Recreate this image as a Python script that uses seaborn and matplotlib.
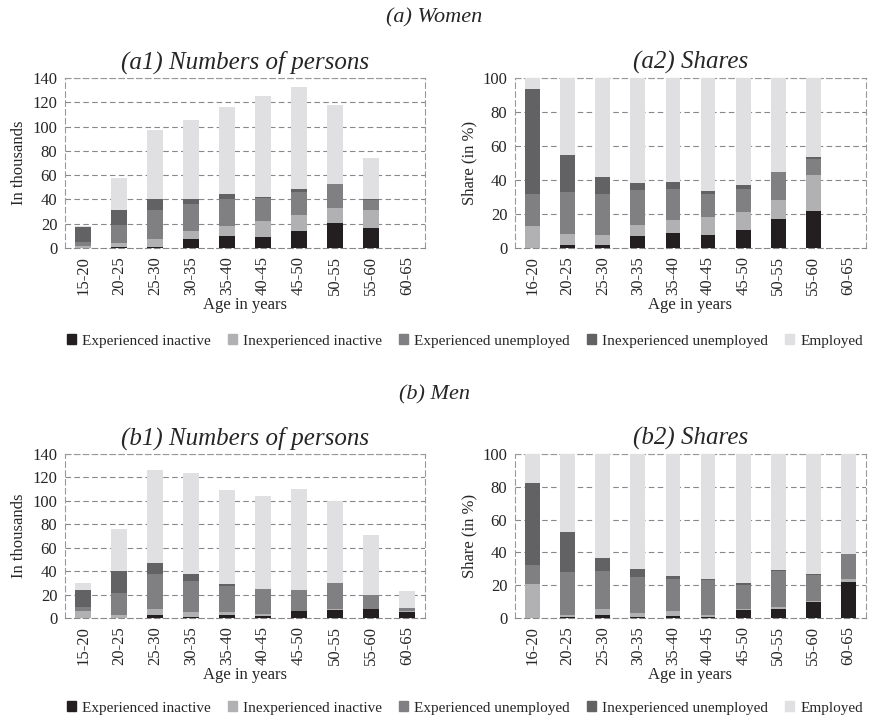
import matplotlib
matplotlib.use("Agg")
import matplotlib.pyplot as plt
import seaborn as sns
import pandas as pd
import numpy as np
from matplotlib.patches import Patch

sns.set_style("white")
plt.rcParams['font.family'] = ['Liberation Serif', 'DejaVu Serif']

ages_num = ["15-20","20-25","25-30","30-35","35-40","40-45","45-50","50-55","55-60","60-65"]
ages_shr = ["16-20","20-25","25-30","30-35","35-40","40-45","45-50","50-55","55-60","60-65"]
series = ["Experienced inactive","Inexperienced inactive","Experienced unemployed","Inexperienced unemployed","Employed"]
colors = ["#231f20","#b1b1b3","#808082","#626264","#e0e0e2"]

# segments per age group: [exp inactive, inexp inactive, exp unemployed, inexp unemployed, employed]
women_num = [[0,2,3,12,1.5],[0.5,3.9,14.2,12.9,26.5],[1,6.7,23.8,9.1,56.9],[7.7,6.6,21.7,4,65.6],
             [10,8.4,22.2,4.1,71.6],[9.3,13.2,18.5,0.7,83.7],[14.3,13.1,19,2.4,84],[20.9,12.3,19.8,0,65],
             [16.7,14.8,8,0.5,34.4],[0,0,0,0,0]]
women_shr = [[0,12.8,19.2,61.5,6.5],[2,6.5,24.2,21.8,45.5],[2,5.9,24.1,10,58],[7.3,6.5,20.1,4.1,62],
             [9,7.7,18.3,3.6,61.4],[7.9,10.6,13.5,1.3,66.7],[10.8,10.1,14.1,1.8,63.2],[17.3,11.2,16.5,0,55],
             [22,20.7,9.5,1.1,46.7],[0,0,0,0,0]]
men_num = [[0,6.2,3.5,14.3,6],[0.3,2.5,18.8,18.4,36],[2.8,5.2,29.8,9.2,79.4],[0.9,4.5,26.4,6,85.8],
           [2.3,3.1,21.6,2,80.4],[1.4,1.7,21.9,0,79.5],[5.7,0,17.9,0.4,86],[6.5,1.5,22,0,70],
           [7.4,0.6,11.3,0,51.4],[4.8,0.9,3.1,0,13.9]]
men_shr = [[0,20.9,11.6,49.8,17.7],[0.8,1.2,26.2,24.3,47.5],[2,3.7,23.1,7.9,63.3],[0.8,2.4,22,4.8,70],
           [1.4,3.1,19.5,1.8,74.2],[0.8,0.8,21.5,0.4,76.5],[5,0.7,14.6,1.2,78.5],[5.7,1.2,21.9,0.6,70.6],
           [10,0.5,15.9,0.6,73],[22,2,15,0,61]]

fig = plt.figure(figsize=(8.69,7.18), dpi=100)
W, H = 869, 718
def axrect(l, t, r, b):
    return fig.add_axes([l/W, 1-b/H, (r-l)/W, (b-t)/H])

def panel(ax, data, cats, ymax, ylabel, title):
    arr = np.array(data)
    cum = np.cumsum(arr, axis=1)
    for k in range(4, -1, -1):
        df = pd.DataFrame({"age": cats, "v": cum[:, k]})
        sns.barplot(data=df, x="age", y="v", color=colors[k], width=0.42, ax=ax,
                    saturation=1, linewidth=0, zorder=3)
    ax.set_ylim(0, ymax)
    ax.set_xlim(-0.5, 9.5)
    ax.set_yticks(np.arange(0, ymax+1, 20))
    for y in np.arange(20, ymax+1, 20):
        ax.axhline(y, color="#888888", ls=(0,(5,3)), lw=0.8, zorder=1)
    for s in ax.spines.values():
        s.set_color("#999999"); s.set_linestyle((0,(5,3))); s.set_linewidth(0.8)
    ax.spines['bottom'].set_color("#888888")
    ax.set_xticks(range(10))
    ax.set_xticklabels(cats, rotation=90, fontsize=12)
    ax.set_xticks(np.arange(-0.5, 10, 1), minor=True)
    ax.tick_params(axis='x', which='major', length=0, pad=6)
    ax.tick_params(axis='x', which='minor', length=5, color="#888888", direction='in')
    ax.tick_params(axis='y', length=4, color="#888888", labelsize=12, direction='inout')
    ax.set_xlabel("Age in years", fontsize=12, labelpad=1)
    ax.set_ylabel(ylabel, fontsize=12)
    ax.set_title(title, fontsize=18, style='italic', pad=7)

a1 = axrect(65, 78, 425, 248)
a2 = axrect(515, 78, 866, 248)
b1 = axrect(65, 454, 425, 618)
b2 = axrect(515, 454, 866, 618)
panel(a1, women_num, ages_num, 140, "In thousands", "(a1) Numbers of persons")
panel(a2, women_shr, ages_shr, 100, "Share (in %)", "(a2) Shares")
panel(b1, men_num, ages_num, 140, "In thousands", "(b1) Numbers of persons")
panel(b2, men_shr, ages_shr, 100, "Share (in %)", "(b2) Shares")

fig.text(0.5, 1-18/H, "(a) Women", ha='center', va='center', fontsize=16, style='italic')
fig.text(0.5, 1-395/H, "(b) Men", ha='center', va='center', fontsize=16, style='italic')
handles = [Patch(color=c, label=s) for c, s in zip(colors, series)]
for yy in (341, 708):
    fig.legend(handles=handles, loc='center', bbox_to_anchor=(0.535, 1-yy/H), ncol=5, frameon=False,
               fontsize=11, handlelength=0.6, handleheight=0.6, columnspacing=1.1, handletextpad=0.4)

fig.savefig("out.png", dpi=100)
